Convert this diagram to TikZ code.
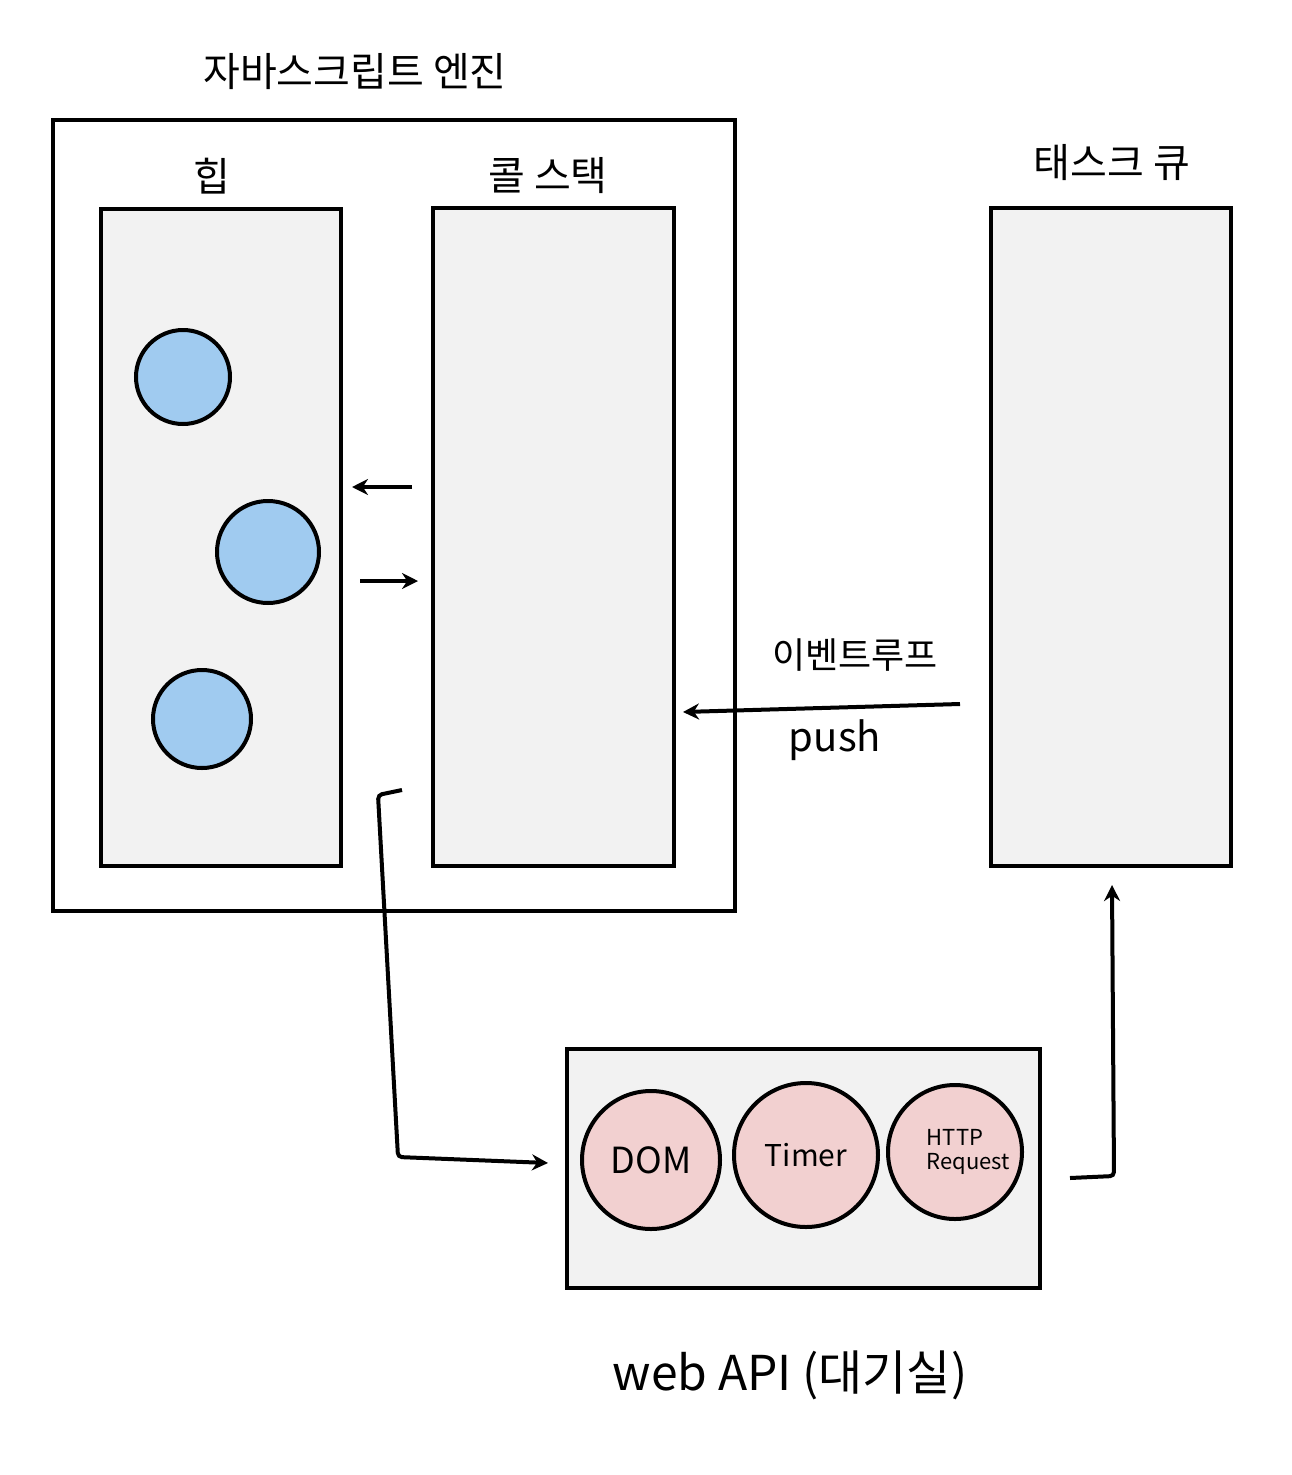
\documentclass[tikz,border=0pt]{standalone}
\usepackage{fontspec}
\setmainfont{Noto Sans CJK KR}
\usetikzlibrary{arrows.meta}
\definecolor{boxg}{HTML}{F2F2F2}
\definecolor{blu}{HTML}{A0CBF0}
\definecolor{pnk}{HTML}{F2D0D0}
\begin{document}
\begin{tikzpicture}[x=1pt,y=-1pt,
 box/.style={draw,line width=4pt,fill=boxg},
 lbl/.style={font=\fontsize{40}{44}\selectfont},
 bc/.style={circle,draw,line width=4pt,fill=blu,inner sep=0pt},
 pc/.style={circle,draw,line width=4pt,fill=pnk,inner sep=0pt,align=center},
 arr/.style={line width=4pt,-{Stealth[length=16pt,width=16pt]}}]
\useasboundingbox (0,0) rectangle (1292,1475);
\node[lbl] (title) at (355,72) {자바스크립트 엔진};
\draw[line width=4pt] (53,120) rectangle (735,911);
\node[box,minimum width=240pt,minimum height=657pt] (heap) at (221,537.5) {};
\node[lbl] (heapl) at (212,176) {힙};
\node[box,minimum width=241pt,minimum height=658pt] (stack) at (553.5,537) {};
\node[lbl] (stackl) at (548,176) {콜 스택};
\node[box,minimum width=240pt,minimum height=658pt] (queue) at (1111,537) {};
\node[lbl] (queuel) at (1112,163) {태스크 큐};
\node[bc,minimum size=94pt] (c1) at (183,377) {};
\node[bc,minimum size=102pt] (c2) at (268,552) {};
\node[bc,minimum size=98pt] (c3) at (202,719) {};
\coordinate (a1s) at (412,487); \coordinate (a1e) at (352,487);
\coordinate (a2s) at (360,581); \coordinate (a2e) at (418,581);
\draw[arr] (a1s) -- (a1e);
\draw[arr] (a2s) -- (a2e);
\coordinate (els) at (960,704); \coordinate (ele) at (683,712);
\draw[arr] (els) -- (ele);
\node[font=\fontsize{36}{40}\selectfont] (ell) at (855,655) {이벤트루프};
\node[font=\fontsize{40}{44}\selectfont] (push) at (835,740) {push};
\node[box,minimum width=473pt,minimum height=239pt] (web) at (803.5,1168.5) {};
\node[pc,minimum size=138pt,font=\fontsize{36}{40}\selectfont] (dom) at (651,1160) {DOM};
\node[pc,minimum size=144pt,font=\fontsize{30}{34}\selectfont] (timer) at (806,1155) {Timer};
\node[pc,minimum size=134pt,font=\fontsize{22}{26}\selectfont] (http) at (955,1152) {HTTP\\[-2pt]\hspace*{1.2em}Request};
\node[font=\fontsize{48}{52}\selectfont] (webl) at (790,1375) {web API (대기실)};
\coordinate (w0) at (402,790); \coordinate (w1) at (548,1163);
\draw[arr,rounded corners=4pt] (w0) -- (378,795) -- (398,1157) -- (w1);
\coordinate (t0) at (1070,1178); \coordinate (t1) at (1112,885);
\draw[arr,rounded corners=4pt] (t0) -- (1114,1176) -- (t1);
\end{tikzpicture}
\end{document}
